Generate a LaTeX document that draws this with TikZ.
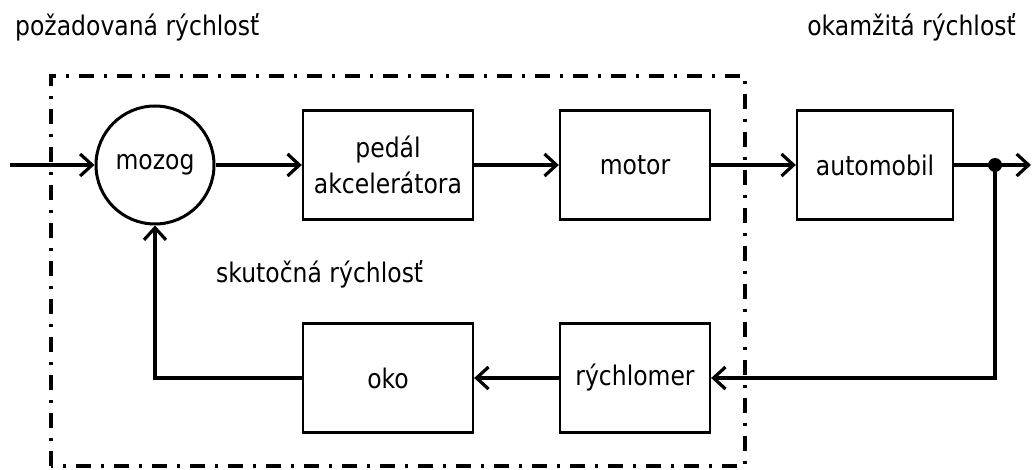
\documentclass[tikz,border=0pt]{standalone}
\usepackage{fontspec}
\setmainfont{DejaVu Sans}[FakeStretch=0.87]
\usetikzlibrary{arrows.meta}
\begin{document}
\fontsize{27}{36}\selectfont
\begin{tikzpicture}[x=1pt, y=1pt, >={Straight Barb[length=12pt,width=22pt]},
    blok/.style={draw, line width=2.3pt, minimum height=109pt, align=center, inner sep=0pt},
    spoj/.style={line width=3.2pt},
    popis/.style={inner sep=0pt},
    hranica/.style={line width=3.8pt, dash pattern=on 15pt off 10pt on 3pt off 10pt}]
\useasboundingbox (0,0) rectangle (1033,469);
\draw[hranica] (51,3) rectangle (745,393);

\node[draw, circle, line width=3pt, minimum size=118pt, inner sep=0pt] (mozog) at (155,304) {mozog};
\node[blok, minimum width=170pt] (pedal) at (388,304) {pedál\\akcelerátora};
\node[blok, minimum width=150pt] (motor) at (635,304) {motor};
\node[blok, minimum width=156pt] (auto) at (875,304) {automobil};
\node[blok, minimum width=170pt] (oko) at (388,91) {oko};
\node[blok, minimum width=150pt] (merac) at (635,91) {rýchlomer};

\coordinate (vstup) at (10,304);
\coordinate (vystup) at (1031,304);
\coordinate (uzol) at (995,304);

\node[popis, anchor=west] (poz) at (15,442) {požadovaná rýchlosť};
\node[popis, anchor=east] (okam) at (1016,442) {okamžitá rýchlosť};
\node[popis, anchor=west] (skut) at (216,195) {skutočná rýchlosť};

\draw[spoj,->] (vstup)--(mozog);
\draw[spoj,->] (mozog)--(pedal);
\draw[spoj,->] (pedal)--(motor);
\draw[spoj,->] (motor)--(auto);
\draw[spoj,->] (auto)--(vystup);
\draw[spoj,->] (uzol)|-(merac);
\draw[spoj,->] (merac)--(oko);
\draw[spoj,->] (oko)-|(mozog);
\fill (uzol) circle (7pt);
\end{tikzpicture}
\end{document}
